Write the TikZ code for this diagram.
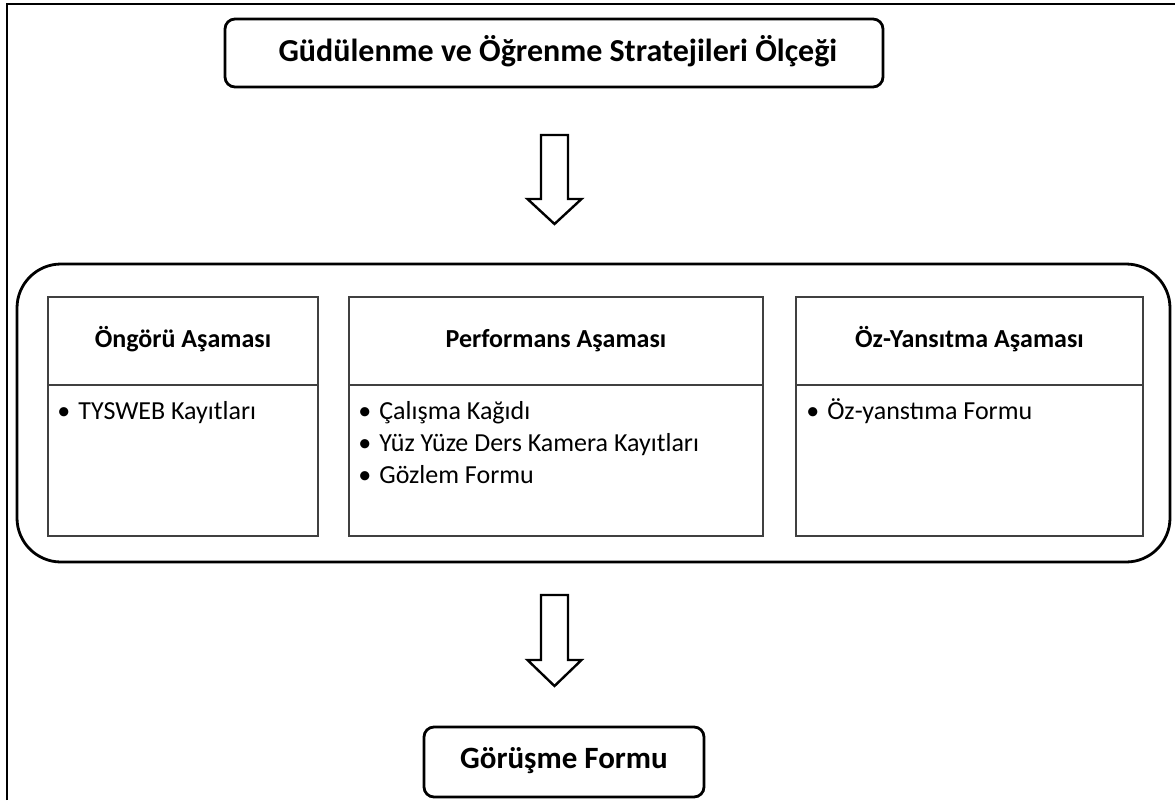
\documentclass[tikz,border=0pt]{standalone}
\usepackage{fontspec}
\setmainfont{Carlito}
\begin{document}
\begin{tikzpicture}[x=0.5pt,y=-0.5pt,
  outerbox/.style={draw=black, line width=1.4pt, rounded corners=5pt, inner sep=0pt},
  bigbox/.style={draw=black, line width=1.4pt, rounded corners=22pt, inner sep=0pt},
  phasebox/.style={draw=black!75, line width=0.9pt, inner sep=0pt},
  divider/.style={draw=black!75, line width=0.9pt},
  titletext/.style={font=\bfseries\fontsize{16}{19}\selectfont, inner sep=0pt, anchor=base},
  headtext/.style={font=\bfseries\fontsize{13}{16}\selectfont, inner sep=0pt, anchor=base},
  itemtext/.style={font=\fontsize{13}{16}\selectfont, inner sep=0pt, anchor=base west},
  blockarrow/.style={draw=black, line width=1.2pt, fill=white, line join=miter}
]
\useasboundingbox (0,0) rectangle (1175,800);
% frame
\draw[line width=1pt] (7,800) -- (7,4) -- (1175,4);

% top box
\node[outerbox, minimum width=329pt, minimum height=34pt] (top) at (554,53) {};
\node[titletext] (toptext) at (558,61) {Güdülenme ve Öğrenme Stratejileri Ölçeği};

% container
\node[bigbox, minimum width=576.5pt, minimum height=149pt] (cont) at (593.5,413) {};

% phase boxes
\node[phasebox, minimum width=135pt, minimum height=119.5pt] (p1) at (183,416.5) {};
\node[phasebox, minimum width=207pt, minimum height=119.5pt] (p2) at (556,416.5) {};
\node[phasebox, minimum width=173.5pt, minimum height=119.5pt] (p3) at (969.5,416.5) {};
\draw[divider] (p1.west |- 0,385) -- (p1.east |- 0,385);
\draw[divider] (p2.west |- 0,385) -- (p2.east |- 0,385);
\draw[divider] (p3.west |- 0,385) -- (p3.east |- 0,385);

\node[headtext] (h1) at (p1.center |- 0,347) {Öngörü Aşaması};
\node[headtext] (h2) at (p2.center |- 0,347) {Performans Aşaması};
\node[headtext] (h3) at (p3.center |- 0,347) {Öz-Yansıtma Aşaması};

\newcommand{\bulB}{\llap{•\hspace{4pt}}}
\node[itemtext] (i1) at (78,419) {\bulB TYSWEB Kayıtları};
\node[itemtext] (i2a) at (379,419) {\bulB Çalışma Kağıdı};
\node[itemtext] (i2b) at (379,451) {\bulB Yüz Yüze Ders Kamera Kayıtları};
\node[itemtext] (i2c) at (379,483) {\bulB Gözlem Formu};
\node[itemtext] (i3) at (827,419) {\bulB Öz-yanstıma Formu};

% bottom box
\node[outerbox, minimum width=140pt, minimum height=35pt] (bot) at (564,762) {};
\node[titletext, font=\bfseries\fontsize{15.5}{18}\selectfont] (bottext) at (564,768) {Görüşme Formu};

% block arrows between the boxes
\coordinate (a1top) at (554.5,135);
\coordinate (a1tip) at (554.5,224);
\draw[blockarrow] (a1top) ++(-13.5,0) -- ++(27,0) -- ++(0,64) -- ++(13.5,0) -- (a1tip)
   -- ++(-27,-25) -- ++(13.5,0) -- cycle;
\coordinate (a2top) at (554.5,595);
\coordinate (a2tip) at (554.5,686);
\draw[blockarrow] (a2top) ++(-13.5,0) -- ++(27,0) -- ++(0,65) -- ++(13.5,0) -- (a2tip)
   -- ++(-27,-26) -- ++(13.5,0) -- cycle;
\end{tikzpicture}
\end{document}
